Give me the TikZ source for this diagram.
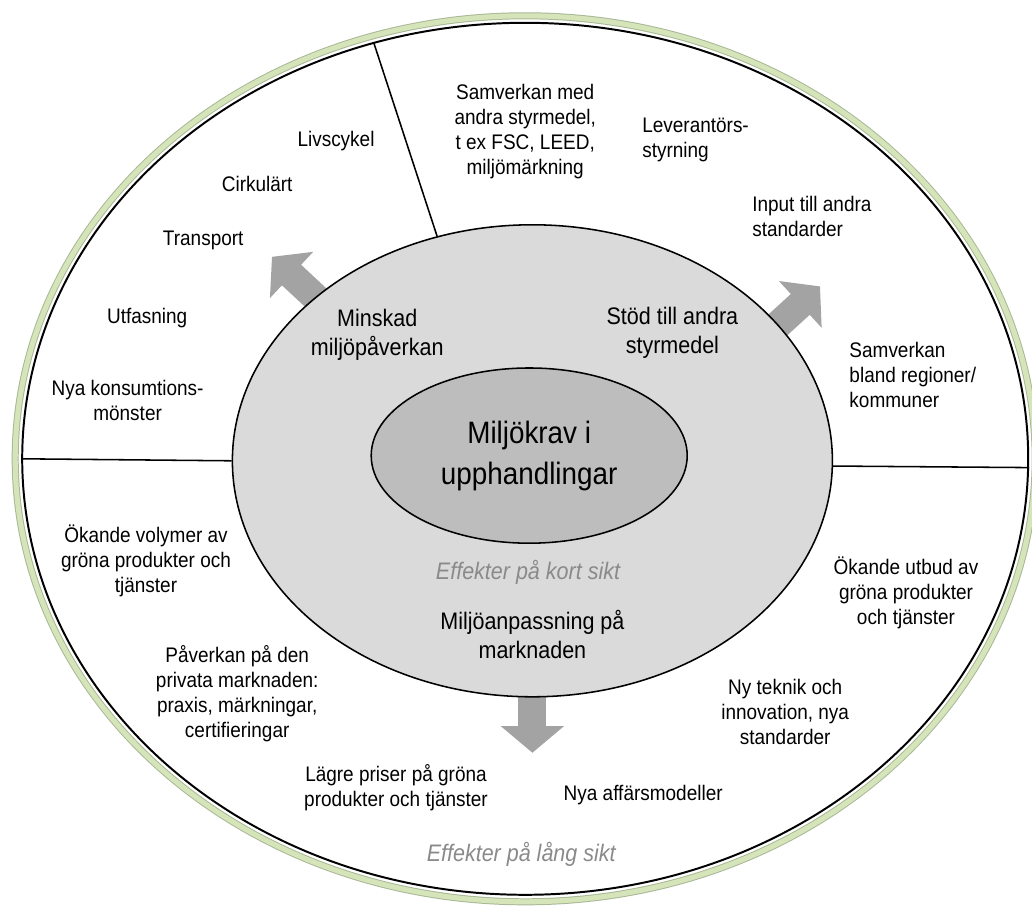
\documentclass[tikz,border=0pt]{standalone}
\usepackage{fontspec}
\setmainfont[FakeStretch=0.9]{Liberation Sans}
\usepackage{tikz}
\usetikzlibrary{arrows.meta, shapes.geometric, backgrounds}
\definecolor{ringgreen}{RGB}{214,228,186}
\definecolor{ringedge}{RGB}{168,184,150}
\definecolor{midgray}{RGB}{218,218,218}
\definecolor{coregray}{RGB}{189,189,189}
\definecolor{arrowgray}{RGB}{163,163,163}
\definecolor{siktgray}{RGB}{138,138,138}
\tikzset{
  oval/.style={ellipse, draw, inner sep=0pt},
  lbl/.style={align=center, inner sep=0pt, font=\fontsize{15}{17.8}\selectfont},
  lblw/.style={lbl, align=left, anchor=west},
  midlbl/.style={align=center, inner sep=0pt, font=\fontsize{17}{20.6}\selectfont},
  corelbl/.style={align=center, font=\fontsize{22}{29.2}\selectfont},
  sikt/.style={inner sep=0pt, text=siktgray, font=\itshape\fontsize{17}{20}\selectfont},
  divider/.style={draw, line width=1.1pt},
  bigarrow/.style={draw=arrowgray, line width=20pt, -{Triangle[width=44pt, length=19pt]}},
}

\begin{document}
\begin{tikzpicture}
    \useasboundingbox (0,0) rectangle (25.80,22.65);
    % rings
    \node[oval, draw=ringedge, line width=5pt, minimum width=25.50cm, minimum height=22.15cm] (rim) at (13.13,11.18) {};
    \node[oval, draw=ringgreen, line width=3.6pt, minimum width=25.50cm, minimum height=22.15cm] (rimfill) at (13.13,11.18) {};
    \node[oval, line width=1.4pt, minimum width=25.15cm, minimum height=21.80cm] (outer) at (13.13,11.18) {};
    \node[oval, fill=midgray, line width=1.1pt, minimum width=15.00cm, minimum height=11.80cm] (mid) at (13.31,11.13) {};
    \node[oval, corelbl, fill=coregray, line width=1.1pt, minimum width=7.90cm, minimum height=4.38cm] (core) at (13.23,11.26) {Miljökrav i\\upphandlingar};
    % sector lines
    \draw[divider] (outer.110) -- (mid.113);
    \draw[divider] (outer.180) -- (mid.180);
    \draw[divider] (outer.-1.5) -- (mid.-1.3);
    % arrows
    \coordinate (tipNW) at (6.80,16.23);
    \coordinate (tipNE) at (20.50,15.49);
    \coordinate (tipS) at (13.31,3.83);
    \begin{scope}[on background layer]
      \draw[bigarrow, shorten <=-12pt] (mid.143) -- (tipNW);
      \draw[bigarrow, shorten <=-12pt] (mid.29.5) -- (tipNE);
      \draw[bigarrow, shorten <=-12pt] (mid.-90) -- (tipS);
    \end{scope}
    % upper left
    \node[lbl] (livscykel) at (8.40,19.13) {Livscykel};
    \node[lbl] (cirkular) at (6.43,18.05) {Cirkulärt};
    \node[lbl] (transport) at (5.08,16.65) {Transport};
    \node[lbl] (utfasning) at (3.68,14.70) {Utfasning};
    \node[lbl] (konsum) at (3.19,12.65) {Nya konsumtions-\\mönster};
    \node[midlbl] (minskad) at (9.43,14.28) {Minskad\\miljöpåverkan};
    % upper right
    \node[lbl] (samverkan) at (13.13,19.35) {Samverkan med\\andra styrmedel,\\t ex FSC, LEED,\\miljömärkning};
    \node[lblw] (lev) at (16.05,19.15) {Leverantörs-\\styrning};
    \node[lblw] (input) at (18.80,17.25) {Input till andra\\standarder};
    \node[midlbl] (stod) at (16.81,14.33) {Stöd till andra\\styrmedel};
    \node[lblw] (regioner) at (21.23,13.28) {Samverkan\\bland regioner/\\kommuner};
    % lower half
    \node[lbl] (volymer) at (3.65,8.63) {Ökande volymer av\\gröna produkter och\\tjänster};
    \node[sikt] (kort) at (13.20,8.35) {Effekter på kort sikt};
    \node[midlbl] (anpass) at (13.31,6.78) {Miljöanpassning på\\marknaden};
    \node[lbl] (utbud) at (22.65,7.83) {Ökande utbud av\\gröna produkter\\och tjänster};
    \node[lbl] (privata) at (5.93,5.30) {Påverkan på den\\privata marknaden:\\praxis, märkningar,\\certifieringar};
    \node[lbl] (teknik) at (19.63,4.85) {Ny teknik och\\innovation, nya\\standarder};
    \node[lbl] (priser) at (9.90,2.95) {Lägre priser på gröna\\produkter och tjänster};
    \node[lbl] (affar) at (16.08,2.78) {Nya affärsmodeller};
    \node[sikt] (lang) at (13.03,1.28) {Effekter på lång sikt};
\end{tikzpicture}
\end{document}
